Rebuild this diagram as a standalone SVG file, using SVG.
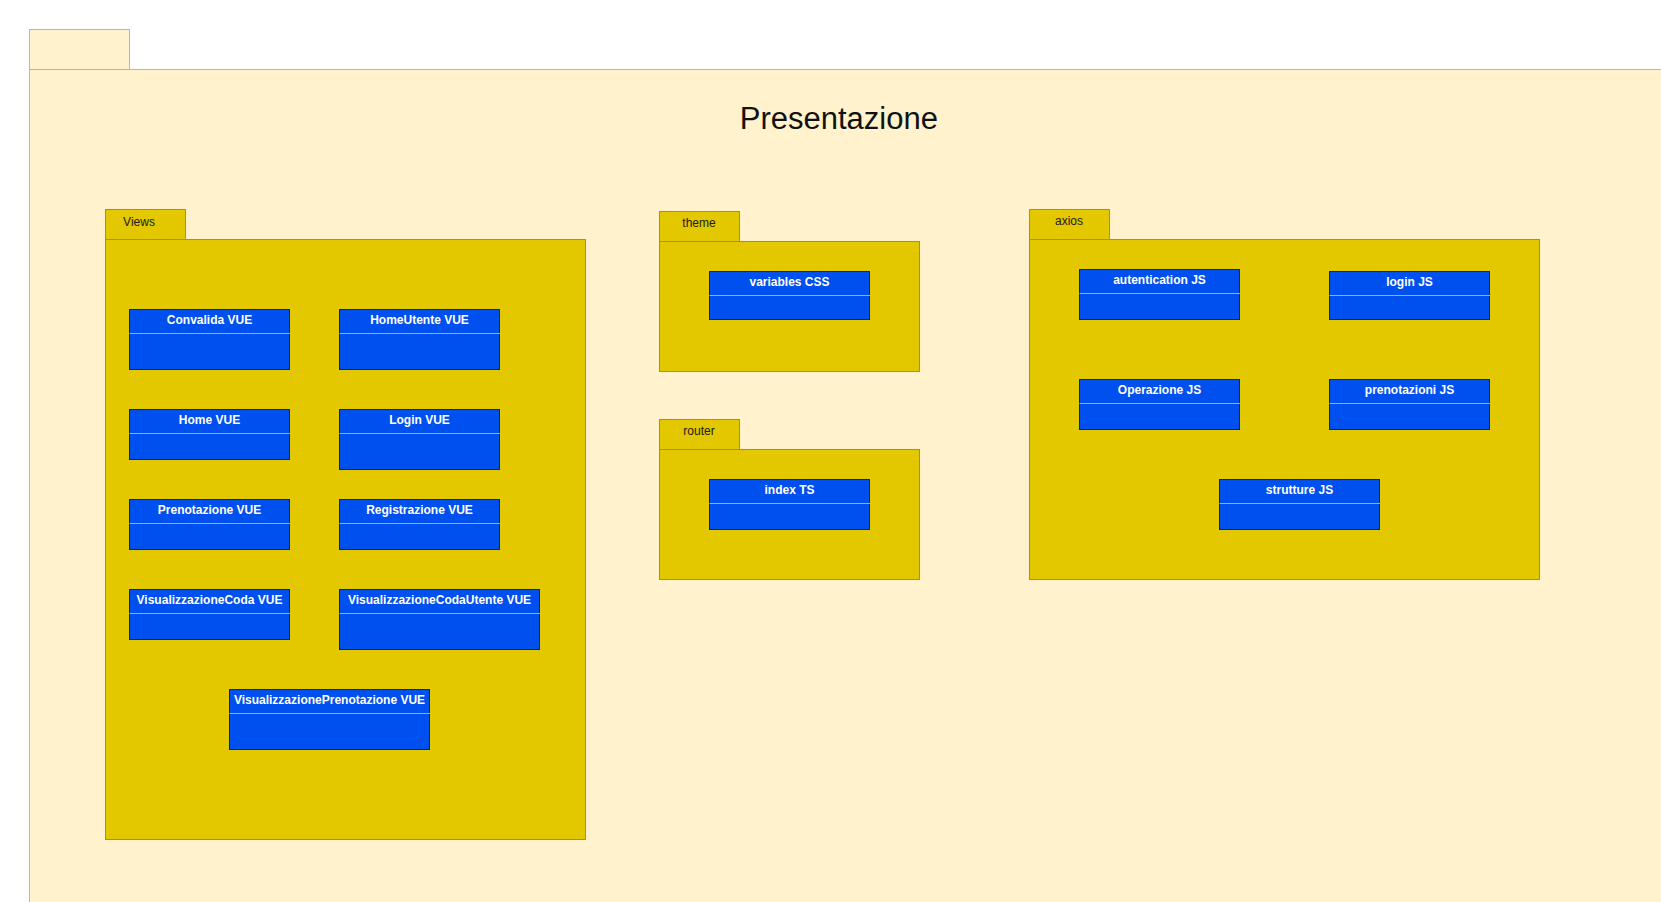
<svg xmlns="http://www.w3.org/2000/svg" width="1661" height="902" viewBox="0 0 1661 902">
<style>
.outer{fill:#fff2cc;stroke:#d6b656;stroke-width:1}
.pkg{fill:#e3c800;stroke:#b09500;stroke-width:1}
.cls{fill:#0050ef;stroke:#001dbc;stroke-width:1}
.div{stroke:#a9a9c9;stroke-width:1}
.ct{font-family:"Liberation Sans",Arial,sans-serif;font-size:12px;font-weight:bold;fill:#ffffff;text-anchor:middle}
.pt{font-family:"Liberation Sans",Arial,sans-serif;font-size:12px;fill:#1a1a1a;text-anchor:middle}
.title{font-family:"Liberation Sans",Arial,sans-serif;font-size:31px;fill:#111111;text-anchor:middle}
</style>
<rect width="1661" height="902" fill="#ffffff"/>
<g id="presentazione">
<rect class="outer" x="29.5" y="29.5" width="100" height="40"/>
<rect class="outer" x="29.5" y="69.5" width="1700" height="900"/>
<text class="title" x="838.8" y="129">Presentazione</text>
</g>
<g id="pkg-views">
<rect class="pkg" x="105.5" y="209.5" width="80" height="30"/>
<rect class="pkg" x="105.5" y="239.5" width="480" height="600"/>
<text class="pt" x="139" y="226">Views</text>
</g>
<g id="pkg-theme">
<rect class="pkg" x="659.5" y="211.5" width="80" height="30"/>
<rect class="pkg" x="659.5" y="241.5" width="260" height="130"/>
<text class="pt" x="699" y="227">theme</text>
</g>
<g id="pkg-router">
<rect class="pkg" x="659.5" y="419.5" width="80" height="30"/>
<rect class="pkg" x="659.5" y="449.5" width="260" height="130"/>
<text class="pt" x="699" y="435">router</text>
</g>
<g id="pkg-axios">
<rect class="pkg" x="1029.5" y="209.5" width="80" height="30"/>
<rect class="pkg" x="1029.5" y="239.5" width="510" height="340"/>
<text class="pt" x="1069" y="225">axios</text>
</g>
<g id="cls-convalida"><rect class="cls" x="129.5" y="309.5" width="160" height="60"/><line class="div" x1="129.5" y1="333.5" x2="290.5" y2="333.5"/><text class="ct" x="209.5" y="324">Convalida VUE</text></g>
<g id="cls-homeutente"><rect class="cls" x="339.5" y="309.5" width="160" height="60"/><line class="div" x1="339.5" y1="333.5" x2="500.5" y2="333.5"/><text class="ct" x="419.5" y="324">HomeUtente VUE</text></g>
<g id="cls-home"><rect class="cls" x="129.5" y="409.5" width="160" height="50"/><line class="div" x1="129.5" y1="433.5" x2="290.5" y2="433.5"/><text class="ct" x="209.5" y="424">Home VUE</text></g>
<g id="cls-login"><rect class="cls" x="339.5" y="409.5" width="160" height="60"/><line class="div" x1="339.5" y1="433.5" x2="500.5" y2="433.5"/><text class="ct" x="419.5" y="424">Login VUE</text></g>
<g id="cls-prenotazione"><rect class="cls" x="129.5" y="499.5" width="160" height="50"/><line class="div" x1="129.5" y1="523.5" x2="290.5" y2="523.5"/><text class="ct" x="209.5" y="514">Prenotazione VUE</text></g>
<g id="cls-registrazione"><rect class="cls" x="339.5" y="499.5" width="160" height="50"/><line class="div" x1="339.5" y1="523.5" x2="500.5" y2="523.5"/><text class="ct" x="419.5" y="514">Registrazione VUE</text></g>
<g id="cls-vcoda"><rect class="cls" x="129.5" y="589.5" width="160" height="50"/><line class="div" x1="129.5" y1="613.5" x2="290.5" y2="613.5"/><text class="ct" x="209.5" y="604">VisualizzazioneCoda VUE</text></g>
<g id="cls-vcodautente"><rect class="cls" x="339.5" y="589.5" width="200" height="60"/><line class="div" x1="339.5" y1="613.5" x2="540.5" y2="613.5"/><text class="ct" x="439.5" y="604">VisualizzazioneCodaUtente VUE</text></g>
<g id="cls-vprenotazione"><rect class="cls" x="229.5" y="689.5" width="200" height="60"/><line class="div" x1="229.5" y1="713.5" x2="430.5" y2="713.5"/><text class="ct" x="329.5" y="704">VisualizzazionePrenotazione VUE</text></g>
<g id="cls-variables"><rect class="cls" x="709.5" y="271.5" width="160" height="48"/><line class="div" x1="709.5" y1="295.5" x2="870.5" y2="295.5"/><text class="ct" x="789.5" y="286">variables CSS</text></g>
<g id="cls-index"><rect class="cls" x="709.5" y="479.5" width="160" height="50"/><line class="div" x1="709.5" y1="503.5" x2="870.5" y2="503.5"/><text class="ct" x="789.5" y="494">index TS</text></g>
<g id="cls-autentication"><rect class="cls" x="1079.5" y="269.5" width="160" height="50"/><line class="div" x1="1079.5" y1="293.5" x2="1240.5" y2="293.5"/><text class="ct" x="1159.5" y="284">autentication JS</text></g>
<g id="cls-loginjs"><rect class="cls" x="1329.5" y="271.5" width="160" height="48"/><line class="div" x1="1329.5" y1="295.5" x2="1490.5" y2="295.5"/><text class="ct" x="1409.5" y="286">login JS</text></g>
<g id="cls-operazione"><rect class="cls" x="1079.5" y="379.5" width="160" height="50"/><line class="div" x1="1079.5" y1="403.5" x2="1240.5" y2="403.5"/><text class="ct" x="1159.5" y="394">Operazione JS</text></g>
<g id="cls-prenotazioni"><rect class="cls" x="1329.5" y="379.5" width="160" height="50"/><line class="div" x1="1329.5" y1="403.5" x2="1490.5" y2="403.5"/><text class="ct" x="1409.5" y="394">prenotazioni JS</text></g>
<g id="cls-strutture"><rect class="cls" x="1219.5" y="479.5" width="160" height="50"/><line class="div" x1="1219.5" y1="503.5" x2="1380.5" y2="503.5"/><text class="ct" x="1299.5" y="494">strutture JS</text></g>
<g id="connectors"/>
</svg>
